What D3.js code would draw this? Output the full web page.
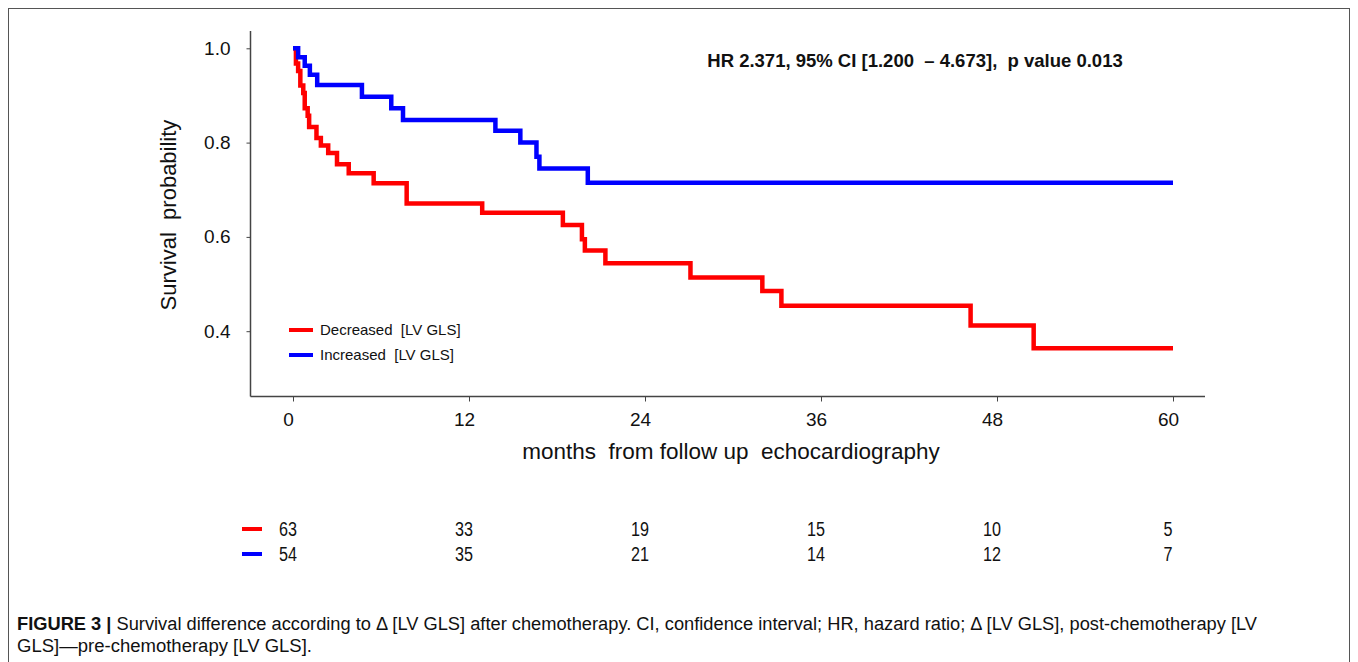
<!DOCTYPE html>
<html>
<head>
<meta charset="utf-8">
<script src="https://cdn.jsdelivr.net/npm/d3@7"></script>
<style>
  html, body { margin: 0; padding: 0; background: #fff; }
  svg { display: block; }
  text { font-family: "Liberation Sans", Arial, sans-serif; fill: #111; white-space: pre; }
</style>
</head>
<body>
<svg id="chart" width="1358" height="662"></svg>
<script>
// Kaplan–Meier step data: [months, survival probability after the step]
const decreasedSteps = [
  [0, 1.0], [0.2, 0.968], [0.35, 0.952], [0.5, 0.921], [0.7, 0.905], [0.8, 0.873],
  [1.0, 0.857], [1.1, 0.833], [1.6, 0.81], [1.9, 0.794], [2.4, 0.778], [3.0, 0.754],
  [3.8, 0.735], [5.5, 0.714], [7.75, 0.671], [12.9, 0.651], [18.4, 0.625],
  [19.7, 0.595], [19.9, 0.571], [21.3, 0.544], [27.1, 0.514], [32.0, 0.485],
  [33.3, 0.454], [46.2, 0.412], [50.5, 0.364], [60, 0.364]
];
const increasedSteps = [
  [0, 1.0], [0.35, 0.981], [0.8, 0.963], [1.15, 0.944], [1.65, 0.922], [4.7, 0.897],
  [6.7, 0.873], [7.5, 0.848], [13.8, 0.825], [15.5, 0.80], [16.6, 0.77],
  [16.8, 0.745], [20.1, 0.715], [60, 0.715]
];
const seriesNames = ["Decreased  [LV GLS]", "Increased  [LV GLS]"];
const seriesColors = ["#ff0000", "#0000ff"];
const xTicks = [0, 12, 24, 36, 48, 60];
const yTicks = [0.4, 0.6, 0.8, 1.0];
const riskTimes = [0, 12, 24, 36, 48, 60];
const riskDecreased = [63, 33, 19, 15, 10, 5];
const riskIncreased = [54, 35, 21, 14, 12, 7];
const hrText = "HR 2.371, 95% CI [1.200  \u2013 4.673],  p value 0.013";
const xTitle = "months  from follow up  echocardiography";
const yTitle = "Survival  probability";
const captionBold = "FIGURE 3 |";
const captionLine1 = " Survival difference according to \u0394 [LV GLS] after chemotherapy. CI, confidence interval; HR, hazard ratio; \u0394 [LV GLS], post-chemotherapy [LV";
const captionLine2 = "GLS]\u2014pre-chemotherapy [LV GLS].";

const svg = d3.select("#chart");

// outer figure frame
svg.append("rect")
  .attr("x", 8.5).attr("y", 8.5)
  .attr("width", 1341).attr("height", 700)
  .attr("fill", "none").attr("stroke", "#555").attr("stroke-width", 1);

// scales
const x = d3.scaleLinear().domain([0, 60]).range([293, 1173]);
const y = d3.scaleLinear().domain([0.4, 1.0]).range([331.2, 48.3]);

const axisLeftX = 250.5, axisBottomY = 396.5;

// y axis
const yAxis = svg.append("g").attr("transform", `translate(${axisLeftX},0)`)
  .call(d3.axisLeft(y).tickValues(yTicks).tickFormat(d3.format(".1f")).tickSize(4).tickPadding(16));
yAxis.select(".domain").attr("d", `M0,31V${axisBottomY}`).attr("stroke", "#444").attr("stroke-width", 1.5);
yAxis.selectAll(".tick line").attr("stroke", "#444");
yAxis.selectAll(".tick text").attr("font-size", 19).attr("fill", "#111")
  .style("font-family", '"Liberation Sans", Arial, sans-serif');

// x axis
const xAxis = svg.append("g").attr("transform", `translate(0,${axisBottomY})`)
  .call(d3.axisBottom(x).tickValues(xTicks).tickSize(5).tickPadding(11));
xAxis.select(".domain").attr("d", `M${axisLeftX},0H1205`).attr("stroke", "#444").attr("stroke-width", 1.5);
xAxis.selectAll(".tick line").attr("stroke", "#444");
xAxis.selectAll(".tick text").attr("font-size", 19).attr("dx", -5).attr("fill", "#111")
  .style("font-family", '"Liberation Sans", Arial, sans-serif');

// axis titles
svg.append("text")
  .attr("transform", "translate(176,215) rotate(-90)")
  .attr("text-anchor", "middle").attr("font-size", 22)
  .text(yTitle);
svg.append("text")
  .attr("x", 731).attr("y", 459)
  .attr("text-anchor", "middle").attr("font-size", 22.5)
  .text(xTitle);

// survival curves
const line = d3.line().x(d => x(d[0])).y(d => y(d[1])).curve(d3.curveStepAfter);
[decreasedSteps, increasedSteps].forEach((data, i) => {
  svg.append("path")
    .datum(data)
    .attr("d", line)
    .attr("fill", "none")
    .attr("stroke", seriesColors[i])
    .attr("stroke-width", 4.5)
    .attr("stroke-linejoin", "miter");
});

// hazard ratio annotation
svg.append("text")
  .attr("x", 915).attr("y", 67)
  .attr("text-anchor", "middle").attr("font-size", 18.5).attr("font-weight", "bold")
  .text(hrText);

// legend
const legend = svg.append("g");
seriesNames.forEach((name, i) => {
  const ly = 330 + i * 25;
  legend.append("line")
    .attr("x1", 289).attr("x2", 313).attr("y1", ly).attr("y2", ly)
    .attr("stroke", seriesColors[i]).attr("stroke-width", 4);
  legend.append("text")
    .attr("x", 320).attr("y", ly + 5)
    .attr("font-size", 15)
    .text(name);
});

// numbers at risk (condensed figures)
[riskDecreased, riskIncreased].forEach((row, i) => {
  const ry = 529 + i * 25;
  svg.append("line")
    .attr("x1", 242).attr("x2", 262).attr("y1", ry).attr("y2", ry)
    .attr("stroke", seriesColors[i]).attr("stroke-width", 4);
  svg.append("g").selectAll("text")
    .data(row)
    .join("text")
    .attr("transform", (d, j) => `translate(${x(riskTimes[j]) - 5},${ry + 7}) scale(0.85,1.08)`)
    .attr("text-anchor", "middle")
    .attr("font-size", 19)
    .text(d => d);
});

// caption
const cap = svg.append("text").attr("x", 17).attr("y", 630).attr("font-size", 18)
  .attr("textLength", 1240).attr("lengthAdjust", "spacingAndGlyphs");
cap.append("tspan").attr("font-weight", "bold").text(captionBold);
cap.append("tspan").text(captionLine1);
svg.append("text").attr("x", 17).attr("y", 652).attr("font-size", 18)
  .attr("textLength", 295).attr("lengthAdjust", "spacingAndGlyphs")
  .text(captionLine2);
</script>
</body>
</html>
